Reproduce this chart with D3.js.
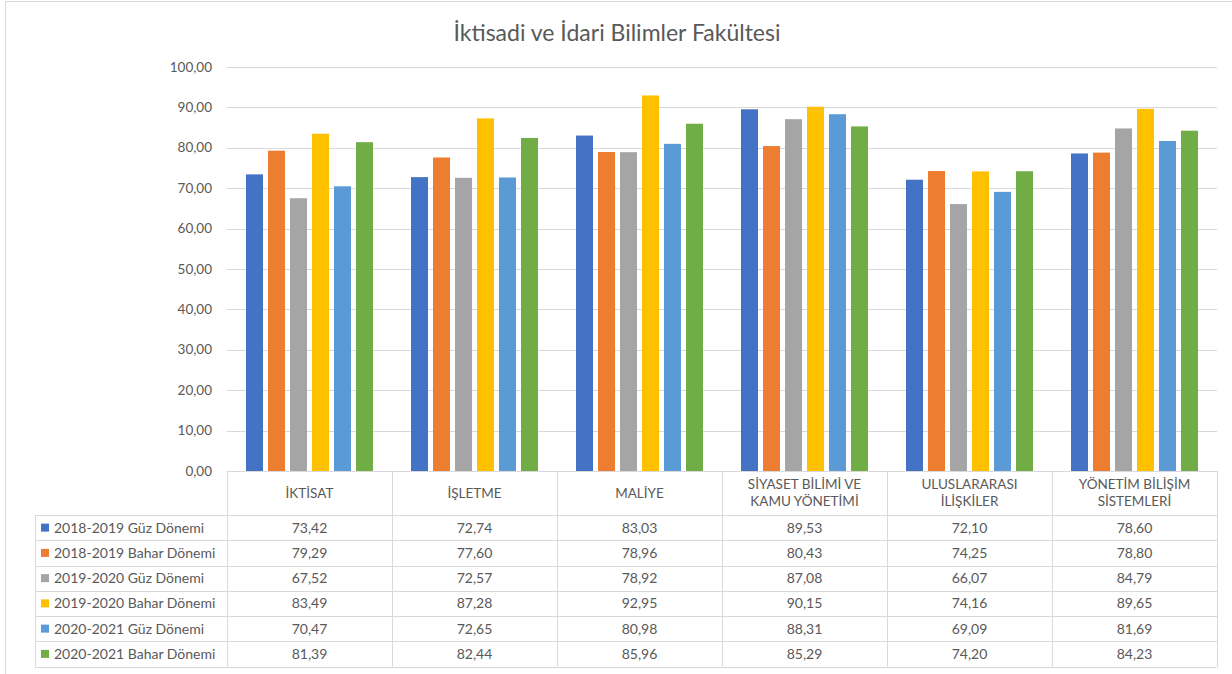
<!DOCTYPE html>
<html><head><meta charset="utf-8">
<script src="https://cdn.jsdelivr.net/npm/d3@7"></script>
<style>
html,body{margin:0;padding:0;background:#fff;}
svg{display:block;}
text{font-family:Lato,"Open Sans",sans-serif;fill:#595959;}
</style></head>
<body>
<script>
const title = "İktisadi ve İdari Bilimler Fakültesi";
const categories = ["İKTİSAT","İŞLETME","MALİYE","SİYASET BİLİMİ VE KAMU YÖNETİMİ","ULUSLARARASI İLİŞKİLER","YÖNETİM BİLİŞİM SİSTEMLERİ"];
const categoryLines = [["İKTİSAT"],["İŞLETME"],["MALİYE"],["SİYASET BİLİMİ VE","KAMU YÖNETİMİ"],["ULUSLARARASI","İLİŞKİLER"],["YÖNETİM BİLİŞİM","SİSTEMLERİ"]];
const seriesNames = ["2018-2019 Güz Dönemi","2018-2019 Bahar Dönemi","2019-2020 Güz Dönemi","2019-2020 Bahar Dönemi","2020-2021 Güz Dönemi","2020-2021 Bahar Dönemi"];
const s1 = [73.42,72.74,83.03,89.53,72.10,78.60];
const s2 = [79.29,77.60,78.96,80.43,74.25,78.80];
const s3 = [67.52,72.57,78.92,87.08,66.07,84.79];
const s4 = [83.49,87.28,92.95,90.15,74.16,89.65];
const s5 = [70.47,72.65,80.98,88.31,69.09,81.69];
const s6 = [81.39,82.44,85.96,85.29,74.20,84.23];
const seriesValues = [s1,s2,s3,s4,s5,s6];
const colors = ["#4472C4","#ED7D31","#A5A5A5","#FFC000","#5B9BD5","#70AD47"];
const yTicks = [0,10,20,30,40,50,60,70,80,90,100];

(function(){
const W=1232,H=674;
const svg=d3.select("body").append("svg").attr("width",W).attr("height",H);
const grid="#D9D9D9";

svg.append("line").attr("x1",5.5).attr("x2",W).attr("y1",1.5).attr("y2",1.5).attr("stroke",grid);
svg.append("line").attr("x1",5.5).attr("x2",5.5).attr("y1",1.5).attr("y2",H).attr("stroke",grid);

svg.append("text").attr("x",617).attr("y",41).attr("text-anchor","middle")
  .style("font-size","23px").text(title);

const pLeft=227,pRight=1217,pTop=67,pBottom=471;
const x=d3.scaleBand().domain(categories).range([pLeft,pRight]).paddingInner(0).paddingOuter(0);
const y=d3.scaleLinear().domain([0,100]).range([pBottom,pTop]);
const fmt=v=>d3.format(".2f")(v).replace(".",",");

svg.append("g").selectAll("line").data(yTicks).join("line")
  .attr("x1",pLeft).attr("x2",pRight).attr("y1",d=>Math.round(y(d))+0.5).attr("y2",d=>Math.round(y(d))+0.5)
  .attr("stroke",grid).attr("stroke-width",1);
svg.append("g").selectAll("text").data(yTicks).join("text")
  .attr("x",212).attr("y",d=>y(d)+4.5).attr("text-anchor","end").style("font-size","13.5px").text(fmt);

const bw=x.bandwidth();
const inner=d3.scaleBand().domain(d3.range(seriesNames.length)).range([19,bw-19]).paddingInner(0.227).paddingOuter(0);
seriesValues.forEach((vals,si)=>{
  svg.append("g").selectAll("rect").data(vals).join("rect")
    .attr("x",(d,i)=>x(categories[i])+inner(si))
    .attr("width",inner.bandwidth())
    .attr("y",d=>y(d)).attr("height",d=>y(0)-y(d))
    .attr("fill",colors[si]);
});

const rowTop=515,rowH=25.25,tableLeft=35;
const nRows=seriesNames.length;
const tg=svg.append("g");
categories.concat([null]).forEach((c,i)=>{
  const xx=(c?x(c):pRight)+0.5;
  tg.append("line").attr("x1",xx).attr("x2",xx).attr("y1",pBottom).attr("y2",rowTop+rowH*nRows).attr("stroke",grid);
});
tg.append("line").attr("x1",tableLeft+0.5).attr("x2",tableLeft+0.5).attr("y1",rowTop).attr("y2",rowTop+rowH*nRows).attr("stroke",grid);
for(let r=0;r<=nRows;r++){
  const yy=Math.round(rowTop+rowH*r)+0.5;
  tg.append("line").attr("x1",tableLeft).attr("x2",pRight+0.5).attr("y1",yy).attr("y2",yy).attr("stroke",grid);
}
categoryLines.forEach((lines,i)=>{
  const cx=x(categories[i])+bw/2;
  const cy=(pBottom+rowTop)/2;
  const lh=17;
  lines.forEach((ln,k)=>{
    tg.append("text").attr("x",cx).attr("y",cy+(k-(lines.length-1)/2)*lh+4.5)
      .attr("text-anchor","middle").style("font-size","13.5px").text(ln);
  });
});
seriesNames.forEach((name,si)=>{
  const cy=rowTop+rowH*si+rowH/2;
  tg.append("rect").attr("x",41).attr("y",cy-4).attr("width",8).attr("height",8).attr("fill",colors[si]);
  tg.append("text").attr("x",54).attr("y",cy+5).style("font-size","14px").text(name);
  seriesValues[si].forEach((v,i)=>{
    tg.append("text").attr("x",x(categories[i])+bw/2).attr("y",cy+5).attr("text-anchor","middle")
      .style("font-size","14px").text(fmt(v));
  });
});
})();
</script>
</body></html>
